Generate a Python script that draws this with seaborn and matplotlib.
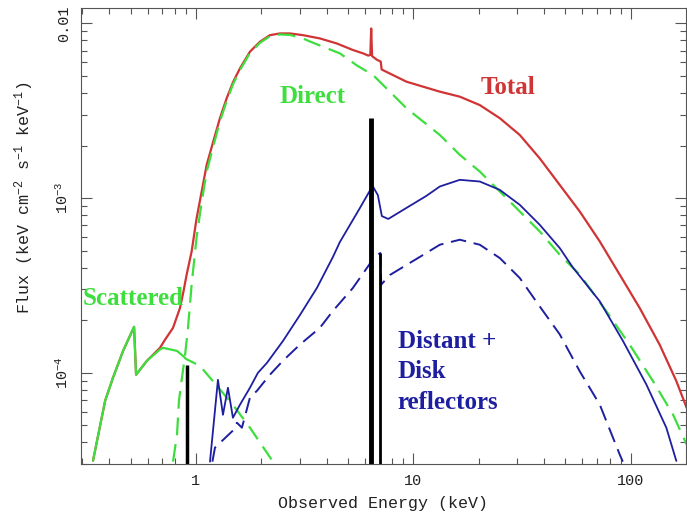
import numpy as np
import seaborn as sns
import matplotlib.pyplot as plt
from matplotlib import ticker

# energies (keV) and fluxes (keV cm-2 s-1 keV-1)
total_e = [0.336, 0.382, 0.415, 0.462, 0.519, 0.530, 0.595, 0.683, 0.720, 0.784,
           0.844, 0.875, 0.906, 0.955, 1.007, 1.062, 1.120, 1.201, 1.289, 1.384,
           1.484, 1.593, 1.771, 1.969, 2.189, 2.433, 2.705, 3.113, 3.717, 4.436,
           5.287, 5.877, 6.2, 6.34, 6.4, 6.46, 6.8, 7.08, 7.15, 9.306,
           13.24, 16.36, 20.22, 24.99, 30.88, 38.15, 47.17, 58.3, 72.02, 89.0,
           110.0, 135.9, 162.2, 180.9]
total_f = [3.14e-5, 6.92e-5, 9.36e-5, 1.335e-4, 1.833e-4, 9.75e-5, 1.172e-4, 1.39e-4, 1.545e-4, 1.808e-4,
           2.35e-4, 2.9e-4, 3.65e-4, 4.95e-4, 7.69e-4, 1.09e-3, 1.55e-3, 2.11e-3, 2.87e-3, 3.73e-3,
           4.64e-3, 5.53e-3, 6.89e-3, 7.86e-3, 8.57e-3, 8.77e-3, 8.77e-3, 8.57e-3, 8.21e-3, 7.69e-3,
           7.04e-3, 6.74e-3, 6.55e-3, 6.6e-3, 9.36e-3, 6.5e-3, 6.2e-3, 6.05e-3, 5.45e-3, 4.64e-3,
           4.07e-3, 3.81e-3, 3.41e-3, 2.87e-3, 2.30e-3, 1.69e-3, 1.19e-3, 8.39e-4, 5.66e-4, 3.65e-4,
           2.35e-4, 1.45e-4, 8.97e-5, 6.31e-5]

direct_e = [0.784, 0.818, 0.835, 0.862, 0.890, 0.919, 0.955, 1.007, 1.062, 1.120,
            1.201, 1.289, 1.384, 1.484, 1.593, 1.771, 1.969, 2.189, 2.433, 2.705,
            3.113, 3.34, 4.594, 5.5, 6.535, 9.306, 13.24, 16.36, 20.22, 24.99,
            30.88, 38.15, 47.17, 58.3, 77.3, 98.9, 126.6, 156.5, 180.9]
direct_f = [3.1e-5, 4.43e-5, 6.92e-5, 9.36e-5, 1.25e-4, 1.81e-4, 3.2e-4, 6.0e-4, 9.5e-4, 1.42e-3,
            1.98e-3, 2.75e-3, 3.6e-3, 4.52e-3, 5.4e-3, 6.78e-3, 7.75e-3, 8.45e-3, 8.65e-3, 8.6e-3,
            8.2e-3, 7.89e-3, 6.74e-3, 5.75e-3, 5.06e-3, 3.27e-3, 2.3e-3, 1.77e-3, 1.42e-3, 1.092e-3,
            8.39e-4, 6.45e-4, 4.74e-4, 3.65e-4, 2.25e-4, 1.45e-4, 8.97e-5, 5.78e-5, 3.89e-5]

scat_e = [0.336, 0.382, 0.415, 0.462, 0.519, 0.530, 0.595, 0.683, 0.705, 0.818,
          0.871, 0.9, 1.043, 1.479, 1.771, 2.26]
scat_f = [3.14e-5, 6.92e-5, 9.36e-5, 1.335e-4, 1.833e-4, 9.75e-5, 1.172e-4, 1.36e-4, 1.39e-4, 1.335e-4,
          1.25e-4, 1.2e-4, 1.096e-4, 6.56e-5, 4.85e-5, 3.1e-5]
scat_solid_max = 0.871  # scattered is drawn solid below this energy

refl_e = [1.16, 1.262, 1.331, 1.403, 1.479, 1.593, 1.771, 1.928, 2.121, 2.512,
          3.007, 3.60, 4.265, 4.594, 5.675, 6.3, 6.5, 6.87, 7.165, 7.67,
          9.31, 11.48, 13.24, 16.36, 20.22, 24.99, 30.88, 38.15, 47.17, 54.28,
          72.02, 92.2, 118.1, 145.9, 162.2]
refl_f = [3.1e-5, 9.12e-5, 5.75e-5, 8.21e-5, 5.53e-5, 6.56e-5, 8.21e-5, 1.0e-4, 1.14e-4, 1.52e-4,
          2.14e-4, 3.06e-4, 4.6e-4, 5.61e-4, 8.77e-4, 1.10e-3, 1.172e-3, 1.04e-3, 7.89e-4, 7.6e-4,
          8.8e-4, 1.03e-3, 1.166e-3, 1.273e-3, 1.245e-3, 1.115e-3, 9.16e-4, 7.04e-4, 5.18e-4, 4.0e-4,
          2.57e-4, 1.52e-4, 8.57e-5, 4.85e-5, 3.13e-5]

distant_e = [1.19, 1.223, 1.479, 1.543, 1.627, 1.771, 1.908, 2.189, 2.512, 3.007,
             3.717, 4.265, 5.271, 6.3, 6.4, 7.05, 7.12, 7.8, 11.06, 13.24,
             16.36, 20.22, 24.99, 30.88, 38.15, 47.17, 58.3, 72.02, 89.0, 92.0]
distant_f = [3.1e-5, 3.73e-5, 4.67e-5, 5.18e-5, 4.85e-5, 7.2e-5, 7.89e-5, 9.75e-5, 1.172e-4, 1.45e-4,
             1.81e-4, 2.26e-4, 3.06e-4, 4.2e-4, 4.5e-4, 4.85e-4, 3.2e-4, 3.63e-4, 4.72e-4, 5.41e-4,
             5.78e-4, 5.41e-4, 4.54e-4, 3.49e-4, 2.4e-4, 1.66e-4, 1.02e-4, 6.59e-5, 3.41e-5, 3.1e-5]

# narrow emission lines
line_e = [0.905, 6.4, 7.06]
line_f = [1.11e-4, 2.87e-3, 4.85e-4]
line_w = [2.5, 3.5, 2.0]

x_ticks = [1, 10, 100]
x_ticklabels = ['1', '10', '100']
y_ticks = [1e-4, 1e-3, 1e-2]
y_ticklabels = [r'$10^{-4}$', r'$10^{-3}$', '0.01']

RED = '#d03434'
GREEN = '#3ede3e'
BLUE = '#1e1ea0'

sns.set_theme(style='ticks')
plt.rcParams['font.family'] = ['Liberation Mono', 'DejaVu Sans Mono']
plt.rcParams['mathtext.fontset'] = 'custom'
plt.rcParams['mathtext.rm'] = 'Liberation Mono'
plt.rcParams['mathtext.it'] = 'Liberation Mono'
plt.rcParams['mathtext.bf'] = 'Liberation Mono:bold'

fig, ax = plt.subplots(figsize=(6.87, 5.18), dpi=100)
fig.subplots_adjust(left=0.118, right=0.998, bottom=0.104, top=0.985)
ax.set_xscale('log')
ax.set_yscale('log')

common = dict(ax=ax, estimator=None, sort=False)
sns.lineplot(x=total_e, y=total_f, color=RED, lw=1.6, **common)

scat_e = np.array(scat_e)
scat_f = np.array(scat_f)
lo = scat_e <= scat_solid_max
hi = scat_e >= scat_solid_max
sns.lineplot(x=scat_e[lo], y=scat_f[lo], color=GREEN, lw=1.6, **common)
sns.lineplot(x=scat_e[hi], y=scat_f[hi], color=GREEN, lw=1.6,
             linestyle=(0, (7, 4)), **common)
sns.lineplot(x=direct_e, y=direct_f, color=GREEN, lw=1.6,
             linestyle=(0, (8, 4)), **common)

sns.lineplot(x=refl_e, y=refl_f, color=BLUE, lw=1.3, **common)
sns.lineplot(x=distant_e, y=distant_f, color=BLUE, lw=1.4,
             linestyle=(0, (8, 4)), **common)

for e, f, w in zip(line_e, line_f, line_w):
    ax.vlines(e, 1e-6, f, color='black', lw=w)

ax.set_xlim(0.296, 179)
ax.set_ylim(3.0e-5, 0.0123)

ax.set_xticks(x_ticks, x_ticklabels)
ax.set_yticks(y_ticks, y_ticklabels)
ax.xaxis.set_minor_locator(ticker.LogLocator(base=10, subs=np.arange(2, 10)))
ax.yaxis.set_minor_locator(ticker.LogLocator(base=10, subs=np.arange(2, 10)))
ax.xaxis.set_minor_formatter(ticker.NullFormatter())
ax.yaxis.set_minor_formatter(ticker.NullFormatter())
ax.tick_params(which='both', direction='in', top=True, right=True,
               color='#555555', width=0.8, labelsize=11, labelcolor='#222222')
ax.tick_params(which='major', length=8, pad=7)
ax.tick_params(which='minor', length=4.5)
plt.setp(ax.get_yticklabels(), rotation=90, va='center')
for s in ax.spines.values():
    s.set_color('#555555')
    s.set_linewidth(0.8)

ax.set_xlabel('Observed Energy (keV)', fontsize=12, color='#222222', labelpad=6)
ax.set_ylabel(r'Flux (keV cm$^{-2}$ s$^{-1}$ keV$^{-1}$)', fontsize=12, color='#222222')
ax.yaxis.set_label_coords(-0.074, 0.583)

label_font = dict(family='Liberation Serif', weight='bold', size=18, transform=ax.transAxes)
ax.text(0.706, 0.825, 'Total', color=RED, ha='center', va='center', **label_font)
ax.text(0.383, 0.805, 'Direct', color=GREEN, ha='center', va='center', **label_font)
ax.text(0.002, 0.364, 'Scattered', color=GREEN, ha='left', va='center', **label_font)
ax.text(0.524, 0.202, 'Distant +\nDisk\nreflectors', color=BLUE, ha='left', va='center',
        linespacing=1.4, **label_font)

plt.savefig('out.png', dpi=100)
